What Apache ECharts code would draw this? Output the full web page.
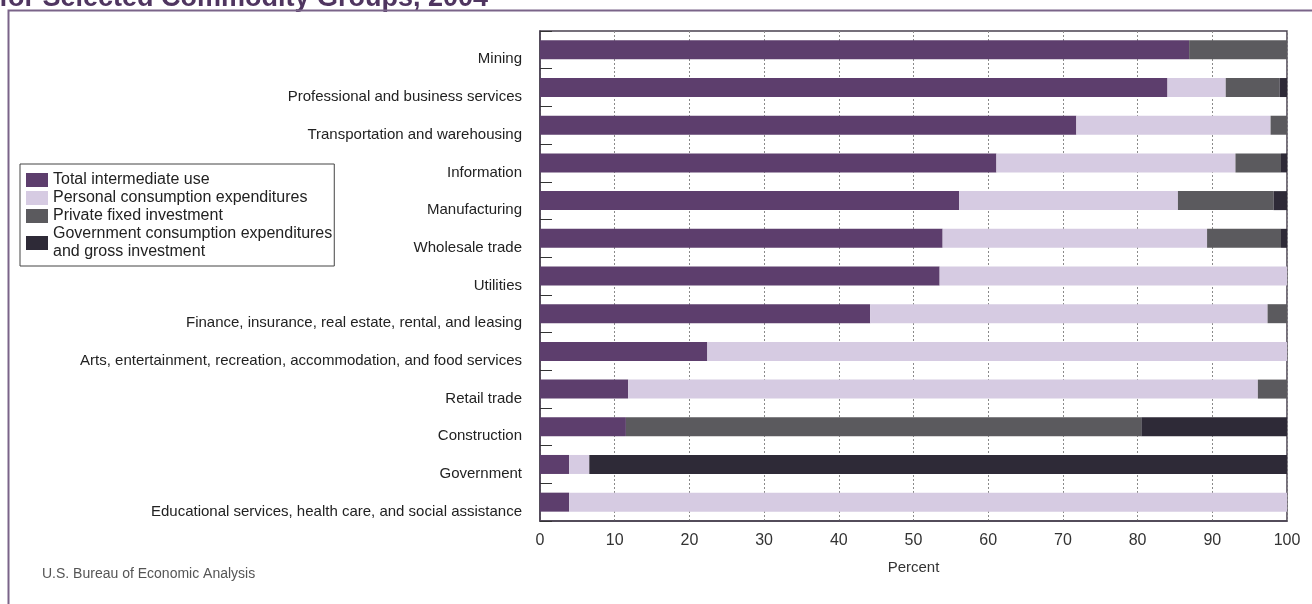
<!DOCTYPE html>
<html>
<head>
<meta charset="utf-8">
<script src="https://cdn.jsdelivr.net/npm/echarts@6/dist/echarts.min.js"></script>
<style>
  html, body { margin: 0; padding: 0; background: #fff; }
  #chart { width: 1312px; height: 604px; }
</style>
</head>
<body>
<div id="chart"></div>
<script>
const categories = [
  "Mining",
  "Professional and business services",
  "Transportation and warehousing",
  "Information",
  "Manufacturing",
  "Wholesale trade",
  "Utilities",
  "Finance, insurance, real estate, rental, and leasing",
  "Arts, entertainment, recreation, accommodation, and food services",
  "Retail trade",
  "Construction",
  "Government",
  "Educational services, health care, and social assistance",
];
const totalIntermediate = [86.9, 84.0, 71.8, 61.1, 56.1, 53.9, 53.5, 44.2, 22.4, 11.8, 11.5, 3.9, 3.9];
const personalConsumption = [0, 7.8, 26.0, 32.0, 29.3, 35.4, 46.5, 53.2, 77.6, 84.3, 0, 2.7, 96.1];
const privateFixed = [13.1, 7.2, 2.2, 6.1, 12.8, 9.9, 0, 2.6, 0, 3.9, 69.0, 0, 0];
const government = [0, 1.0, 0, 0.8, 1.8, 0.8, 0, 0, 0, 0, 19.5, 93.4, 0];
const xTicks = [0, 10, 20, 30, 40, 50, 60, 70, 80, 90, 100];

const font = '"Liberation Sans", Arial, sans-serif';
const chart = echarts.init(document.getElementById("chart"));

const seriesDefs = [
  { name: "Total intermediate use", data: totalIntermediate, color: "#5d3e6d" },
  { name: "Personal consumption expenditures", data: personalConsumption, color: "#d6cbe2" },
  { name: "Private fixed investment", data: privateFixed, color: "#5b5a5e" },
  { name: "Government consumption expenditures\nand gross investment", data: government, color: "#2e2a37" },
];

chart.setOption({
  animation: false,
  textStyle: { fontFamily: font },
  graphic: [
    {
      type: "text",
      left: -1,
      top: -15,
      style: { text: "for Selected Commodity Groups, 2004", fontFamily: font, fontWeight: "bold", fontSize: 27, fill: "#4f3560" },
    },
    {
      type: "polyline",
      shape: { points: [[8.5, 604], [8.5, 10.5], [1312, 10.5]] },
      style: { stroke: "#7a6489", lineWidth: 2, fill: "none" },
    },
    {
      type: "text",
      left: 42,
      top: 567,
      style: { text: "U.S. Bureau of Economic Analysis", fontFamily: font, fontSize: 14, fill: "#555" },
    },
  ],
  legend: {
    orient: "vertical",
    left: 20,
    top: 164,
    itemWidth: 22,
    itemHeight: 14,
    itemGap: 0,
    padding: [7, 2, 5, 6],
    backgroundColor: "#fff",
    borderColor: "#444",
    borderWidth: 1,
    borderRadius: 0,
    selectedMode: false,
    textStyle: { fontFamily: font, fontSize: 16, color: "#222", lineHeight: 18 },
    data: seriesDefs.map((s) => ({ name: s.name, icon: "rect" })),
  },
  grid: {
    left: 540,
    right: 25,
    top: 31,
    bottom: 83,
    show: true,
    borderColor: "#4a4150",
    borderWidth: 1.5,
  },
  xAxis: {
    type: "value",
    min: 0,
    max: 100,
    interval: 10,
    name: "Percent",
    nameLocation: "middle",
    nameGap: 39,
    nameTextStyle: { fontFamily: font, fontSize: 15, color: "#333" },
    axisLine: { show: true, lineStyle: { color: "#4a4150", width: 1.5 } },
    axisTick: { show: false },
    axisLabel: { fontFamily: font, fontSize: 16, color: "#333", margin: 12, formatter: (v) => (xTicks.includes(v) ? String(v) : "") },
    splitLine: { show: true, lineStyle: { color: "#8a8a8a", type: [2, 2], width: 1 } },
  },
  yAxis: {
    type: "category",
    inverse: true,
    data: categories,
    axisLine: { show: true, lineStyle: { color: "#4a4150", width: 1.5 } },
    axisTick: { show: true, inside: true, length: 12, lineStyle: { color: "#333" } },
    axisLabel: { fontFamily: font, fontSize: 15, color: "#222", margin: 18, verticalAlign: "top", lineHeight: 19 },
  },
  series: seriesDefs.map((s) => ({
    name: s.name,
    type: "bar",
    stack: "total",
    barWidth: 19,
    data: s.data,
    itemStyle: { color: s.color },
  })),
});
</script>
</body>
</html>
